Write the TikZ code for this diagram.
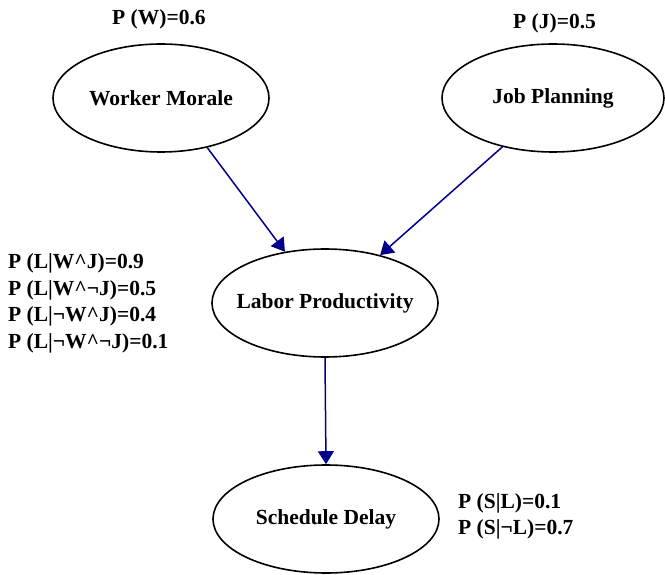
\documentclass[tikz,border=0pt]{standalone}
\usepackage{fontspec}
\setmainfont{Liberation Serif}
\usetikzlibrary{shapes.geometric,arrows.meta}
\definecolor{arrowblue}{RGB}{0,0,140}
\begin{document}
\begin{tikzpicture}[x=1pt,y=-1pt,
  var/.style={draw=black,line width=1.6pt,ellipse,inner xsep=-30pt,inner ysep=0pt,minimum width=222pt,minimum height=108pt,font=\fontsize{21.5}{26}\selectfont\bfseries},
  prob/.style={anchor=base west,inner sep=0pt,font=\fontsize{21.5}{26}\selectfont\bfseries},
  link/.style={draw=arrowblue,line width=1.5pt,-{Triangle[length=13pt,width=16pt]}}]
\fill[white] (0,0) rectangle (665,575);
\useasboundingbox (0,0) rectangle (665,575);
\node[var,minimum width=216pt] (wm) at (161,98) {Worker Morale};
\node[var] (jp) at (553,98) {Job Planning};
\node[var,minimum width=226pt] (lp) at (325,303) {Labor Productivity};
\node[var,minimum width=226pt] (sd) at (326,519) {Schedule Delay};
\node[prob] (pw) at (112,25) {P (W)=0.6};
\node[prob] (pj) at (513,29) {P (J)=0.5};
\node[prob] (c1) at (8,269) {P (L|W\^{}J)=0.9};
\node[prob] (c2) at (8,295.5) {P (L|W\^{}¬J)=0.5};
\node[prob] (c3) at (8,322) {P (L|¬W\^{}J)=0.4};
\node[prob] (c4) at (8,348.5) {P (L|¬W\^{}¬J)=0.1};
\node[prob] (s1) at (458,508) {P (S|L)=0.1};
\node[prob] (s2) at (458,534) {P (S|¬L)=0.7};
\draw[link] (wm.-47) -- (lp.128);
\draw[link] (jp.-136) -- (lp.41);
\draw[link] (lp.south) -- (sd.north);
\end{tikzpicture}
\end{document}
